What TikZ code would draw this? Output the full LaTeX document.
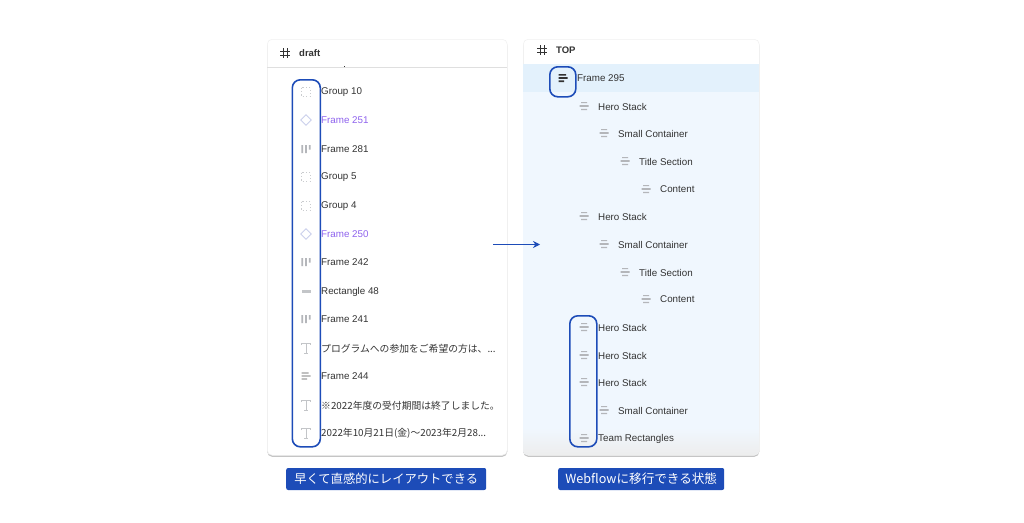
\documentclass[tikz,border=0pt]{standalone}
\usepackage{fontspec}
\setmainfont{Liberation Sans}
\newfontfamily\jpfont{Noto Sans CJK JP}
\usetikzlibrary{positioning, arrows.meta, shadows}
\definecolor{markblue}{HTML}{1D4CB8}
\definecolor{rowblue}{HTML}{F0F7FE}
\definecolor{selblue}{HTML}{E3F1FC}
\definecolor{labelgray}{HTML}{333333}
\definecolor{icongray}{HTML}{B4B6BA}
\definecolor{layerpurple}{HTML}{8F63EE}
\definecolor{diamondblue}{HTML}{CBD0EC}
\tikzset{x=1pt, y=-1pt,
         panel/.style={fill=white, draw=gray!12, line width=.5pt, rounded corners=5pt, anchor=north west, inner sep=0pt,
                       drop shadow={shadow xshift=0pt, shadow yshift=-1.6pt, opacity=.45}},
         header/.style={font=\bfseries\fontsize{9.5}{11}\selectfont, text=labelgray, anchor=west, inner sep=0pt},
         rowtext/.style={font=\fontsize{9.8}{11}\selectfont, text=labelgray, anchor=west, inner sep=0pt},
         marker/.style={draw=markblue, line width=1.6pt, rounded corners=8pt, anchor=north west, inner sep=0pt},
         caption/.style={fill=markblue, text=white, rounded corners=2pt, anchor=north west, inner sep=0pt,
                         minimum height=22pt, font=\jpfont\fontsize{12.3}{14}\selectfont},
         hash/.pic={\draw[labelgray, line width=.9pt]
                        (-2,-5) -- (-2,5) (2,-5) -- (2,5) (-5,-2) -- (5,-2) (-5,2) -- (5,2);},
         group/.pic={\draw[icongray!70, line width=.7pt, dash pattern=on 1.2pt off 2.2pt]
                        (-4.5,-4.5) rectangle (4.5,4.5);},
         diamond/.pic={\draw[diamondblue, line width=.8pt]
                        (0,-5.2) -- (5.2,0) -- (0,5.2) -- (-5.2,0) -- cycle;},
         bars/.pic={\fill[icongray] (-4.6,-4) rectangle (-2.8,4) (-1,-4) rectangle (.8,4) (2.8,-4) rectangle (4.6,.5);},
         rect/.pic={\fill[icongray!80] (-4.5,-1.5) rectangle (4.5,1.5);},
         letter/.pic={\draw[icongray!80, line width=.8pt]
                        (-4.5,-3) -- (-4.5,-5) -- (4.5,-5) -- (4.5,-3) (0,-5) -- (0,5) (-2,5) -- (2,5);},
         leftlines/.pic={\fill[gray!75] (-4.5,-3.6) rectangle (2.5,-2.3) (-4.5,-.7) rectangle (4.5,.7) (-4.5,2.3) rectangle (1,3.6);},
         stack/.pic={\fill[icongray] (-3,-4) rectangle (3,-2.8) (-4.5,-.8) rectangle (4.5,.8) (-3,2.8) rectangle (3,4);},
         darklines/.pic={\fill[labelgray] (-4.5,-4) rectangle (3,-2.4) (-4.5,-.8) rectangle (4.5,.8) (-4.5,2.4) rectangle (1,4);},
         }

\begin{document}
\begin{tikzpicture}
    \useasboundingbox (0,0) rectangle (1024,522);
    \fill[white] (0,0) rectangle (1024,522);

    % left panel
    \node[panel, minimum width=240pt, minimum height=416pt] (draftpanel) at (267,39) {};
    \draw[gray!25, line width=.6pt] (267,67.5) -- (507,67.5);
    \pic at (285,53) {hash};
    \node[header] (draft) at (299,53.5) {draft};
    \fill[labelgray] (343.6,66) rectangle (344.4,67);
    \foreach \i/\ypos/\kind/\col/\name in {
        1/92/group/labelgray/Group 10,
        2/120/diamond/layerpurple/Frame 251,
        3/149/bars/labelgray/Frame 281,
        4/177/group/labelgray/Group 5,
        5/206/group/labelgray/Group 4,
        6/234/diamond/layerpurple/Frame 250,
        7/262/bars/labelgray/Frame 242,
        8/291/rect/labelgray/Rectangle 48,
        9/319/bars/labelgray/Frame 241,
        10/348/letter/labelgray/{\jpfont プログラムへの参加をご希望の方は、...},
        11/376/leftlines/labelgray/Frame 244,
        12/405/letter/labelgray/{\jpfont ※2022年度の受付期間は終了しました。},
        13/433/letter/labelgray/{\jpfont 2022年10月21日(金)〜2023年2月28...}}
    {
        \pic at (306,\ypos) {\kind};
        \node[rowtext, text=\col] (draft\i) at (321,\ypos+.5) {\name};
    }
    \node[marker, minimum width=28pt, minimum height=367pt] (draftmark) at (291.5,79) {};
    \node[caption, minimum width=200pt, right] (draftcap) at (286,479) {早くて直感的にレイアウトできる};

    % right panel
    \node[panel, minimum width=236pt, minimum height=416pt] (toppanel) at (523,39) {};
    \begin{scope}
        \clip[rounded corners=5pt] (523,39) rectangle (759,455);
        \fill[rowblue] (523,64) rectangle (759,455);
        \fill[selblue] (523,64) rectangle (759,92);
        \shade[top color=rowblue, bottom color=gray!14] (523,428) rectangle (759,455);
    \end{scope}
    \pic at (542,50) {hash};
    \node[header] (top) at (556,50.5) {TOP};
    \pic at (563,78) {darklines};
    \node[rowtext] (top1) at (577,78.5) {Frame 295};
    \foreach \i/\ypos/\xpos/\name in {
        2/106/598/Hero Stack,
        3/133/618/Small Container,
        4/161/639/Title Section,
        5/189/660/Content,
        6/216/598/Hero Stack,
        7/244/618/Small Container,
        8/272/639/Title Section,
        9/299/660/Content,
        10/327/598/Hero Stack,
        11/355/598/Hero Stack,
        12/382/598/Hero Stack,
        13/410/618/Small Container,
        14/438/598/Team Rectangles}
    {
        \pic at (\xpos-14,\ypos) {stack};
        \node[rowtext] (top\i) at (\xpos,\ypos+.5) {\name};
    }
    \node[marker, minimum width=26pt, minimum height=30pt] (framemark) at (549,66) {};
    \node[marker, minimum width=27pt, minimum height=131pt] (stackmark) at (569,315) {};
    \node[caption, minimum width=166pt, right, font=\jpfont\fontsize{12.6}{14}\selectfont] (topcap) at (558,479) {Webflowに移行できる状態};

    % arrow between the panels
    \coordinate (from) at (493,244.5);
    \coordinate (to) at (540,244.5);
    \draw[markblue, line width=1pt, -{Stealth[length=7pt, width=7pt]}] (from) -- (to);
\end{tikzpicture}
\end{document}
